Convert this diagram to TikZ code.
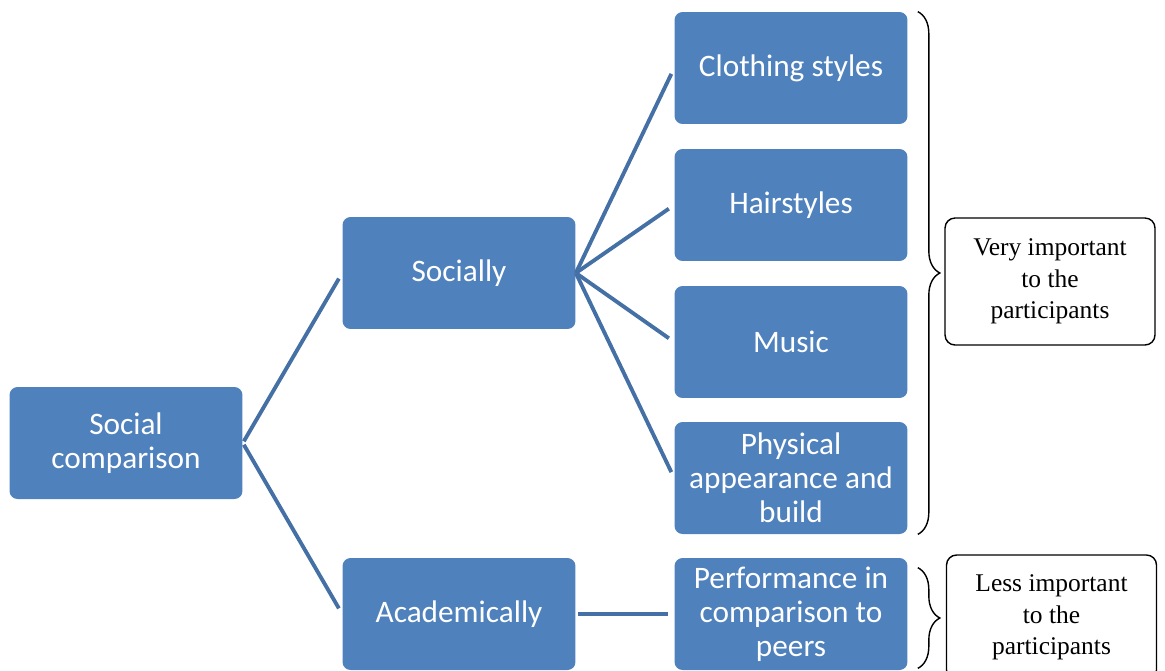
\documentclass[tikz,border=0pt]{standalone}
\usepackage{fontspec}
\setmainfont{Liberation Serif}
\newfontfamily\calibrifont{Carlito}
\usetikzlibrary{decorations.pathreplacing}
\definecolor{boxblue}{HTML}{4F81BD}
\definecolor{linkblue}{HTML}{4470A6}

\begin{document}
\begin{tikzpicture}[x=0.02cm,y=-0.02cm,
  topic/.style={fill=boxblue,rounded corners=0.16cm,minimum width=4.66cm,
    minimum height=2.24cm,align=center,text=white,inner sep=0pt,
    font=\calibrifont\fontsize{17.8}{19.3}\selectfont},
  note/.style={draw=black,line width=0.8pt,rounded corners=0.2cm,
    minimum width=4.2cm,align=center,inner sep=0pt,
    font=\fontsize{14.5}{17.9}\selectfont},
  link/.style={draw=linkblue,line width=2.2pt,shorten <=0.04cm,shorten >=0.13cm},
  bracket/.style={draw=black,line width=0.8pt,decorate,
    decoration={brace,amplitude=0.44cm}}]
  % Columnas del esquema
  \def\colA{126}
  \def\colB{459}
  \def\colC{791}

  % Marco del dibujo
  \useasboundingbox (0,0) rectangle (1165,670);

  % Cajas azules
  \node[topic] (sc) at (\colA,443) {Social\\comparison};
  \node[topic] (soc) at (\colB,273) {Socially};
  \node[topic] (acad) at (\colB,614) {Academically};
  \node[topic] (cloth) at (\colC,68) {Clothing styles};
  \node[topic] (hair) at (\colC,205) {Hairstyles};
  \node[topic] (music) at (\colC,342) {Music};
  \node[topic] (phys) at (\colC,478) {Physical\\appearance and\\build};
  \node[topic] (perf) at (\colC,614) {Performance in\\comparison to\\peers};

  % Conectores
  \draw[link] (sc.east) -- (soc.west);
  \draw[link] (sc.east) -- (acad.west);
  \foreach \n in {cloth,hair,music,phys}
    \draw[link,shorten <=0pt] (soc.east) -- (\n.west);
  \draw[link] (acad.east) -- (perf.west);

  % Llaves y notas
  \draw[bracket] ([xshift=0.2cm]cloth.north east) -- ([xshift=0.2cm]phys.south east);
  \draw[bracket] ([xshift=0.2cm,yshift=-0.2cm]perf.north east) -- ([xshift=0.2cm,yshift=0.04cm]perf.south east);
  \node[note,minimum height=2.54cm] (very) at (1050,281.5) {Very important\\to the\\participants};
  \node[note,minimum height=2.5cm] (less) at (1051.5,617.5) {Less important\\to the\\participants};
\end{tikzpicture}
\end{document}
